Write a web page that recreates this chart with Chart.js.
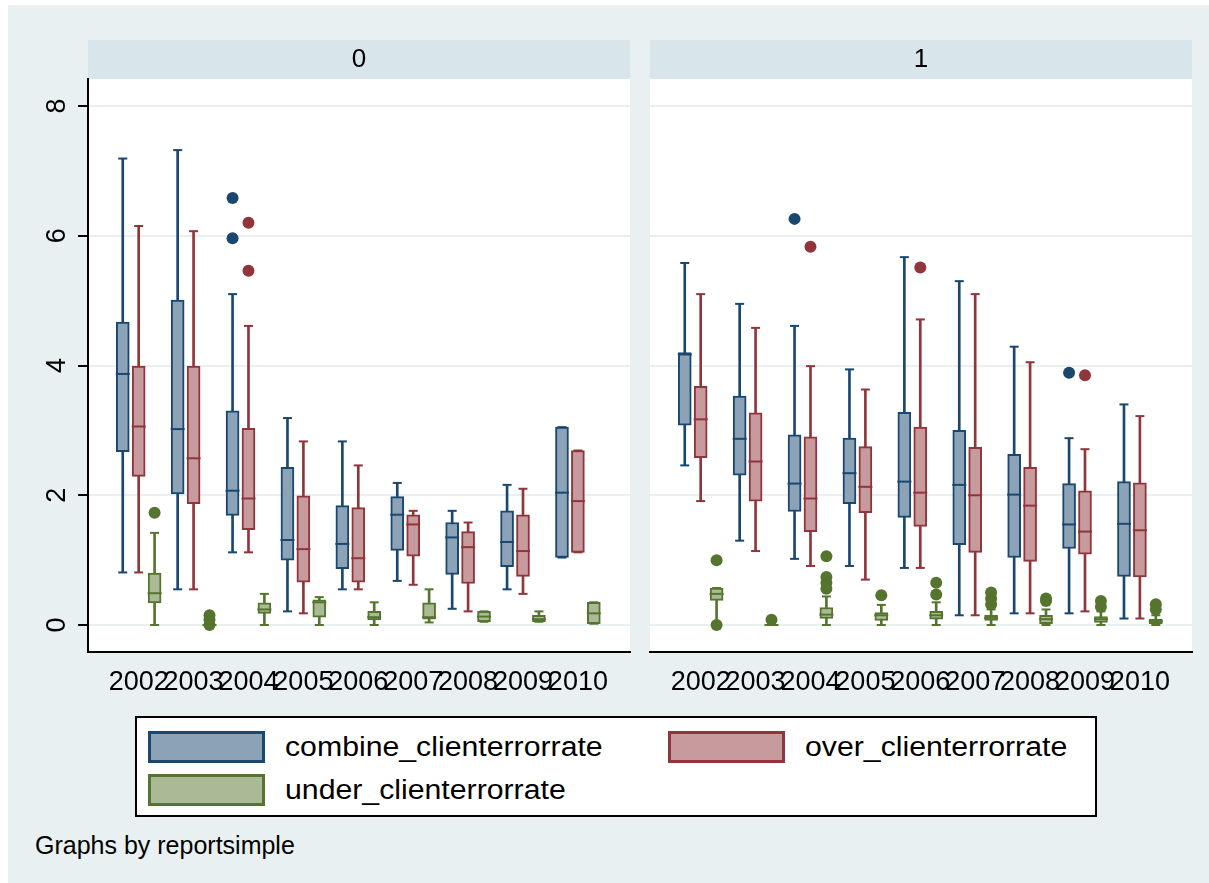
<!DOCTYPE html>
<html>
<head>
<meta charset="utf-8">
<script src="https://cdn.jsdelivr.net/npm/chart.js@4.4.1/dist/chart.umd.min.js"></script>
<style>
  body { margin: 0; background: #fff; font-family: "Liberation Sans", Arial, sans-serif; }
  #wrap { position: relative; width: 1209px; height: 883px; background: #fff; overflow: hidden; }
  #bg { position: absolute; left: 8px; top: 5px; right: 0; bottom: 0; background: #E8F0F2; }
  .panel { position: absolute; top: 0; height: 720px; }
  #legend { position: absolute; left: 135px; top: 716px; width: 962px; height: 101px;
            box-sizing: border-box; border: 2px solid #000; background: #fff; }
  .sw { position: absolute; width: 117px; height: 32px; box-sizing: border-box; border: 3px solid; }
  .lt { position: absolute; height: 32px; line-height: 32px; font-size: 27px; color: #000;
        white-space: nowrap; transform: scaleX(1.12); transform-origin: left center; }
  #note { position: absolute; left: 35px; top: 830px; line-height: 30px; font-size: 25px; color: #000; }
</style>
</head>
<body>
<div id="wrap">
  <div id="bg"></div>
  <div class="panel" style="left:0;width:640px"><canvas id="panel0"></canvas></div>
  <div class="panel" style="left:640px;width:569px"><canvas id="panel1"></canvas></div>
  <div id="legend"></div>
  <div class="sw" style="left:148px;top:731px;border-color:#1A476F;background:#8CA3B7"></div>
  <div class="lt" style="left:285px;top:731px">combine_clienterrorrate</div>
  <div class="sw" style="left:668px;top:731px;border-color:#90353B;background:#C79A9D"></div>
  <div class="lt" style="left:805px;top:731px">over_clienterrorrate</div>
  <div class="sw" style="left:148px;top:774px;border-color:#55752F;background:#AABA97"></div>
  <div class="lt" style="left:285px;top:774px">under_clienterrorrate</div>
  <div id="note">Graphs by reportsimple</div>
</div>
<script>
/* boxplots by reportsimple (0 / 1) */
const years = ['2002', '2003', '2004', '2005', '2006', '2007', '2008', '2009', '2010'];
const yTicks = [0, 2, 4, 6, 8];
const panels = ['0', '1'];

// box stats per year: [lower whisker, q1, median, q3, upper whisker]
const combine0 = [
  [0.81, 2.67, 3.87, 4.67, 7.19], [0.55, 2.02, 3.02, 5.01, 7.32], [1.12, 1.69, 2.07, 3.30, 5.10],
  [0.21, 1.00, 1.31, 2.43, 3.19], [0.55, 0.87, 1.25, 1.84, 2.83], [0.68, 1.15, 1.70, 1.98, 2.19],
  [0.25, 0.78, 1.35, 1.58, 1.76], [0.55, 0.90, 1.28, 1.76, 2.16], [1.04, 1.04, 2.04, 3.05, 3.05]
];
const over0 = [
  [0.81, 2.29, 3.06, 3.99, 6.15], [0.55, 1.87, 2.57, 3.99, 6.07], [1.12, 1.47, 1.95, 3.03, 4.61],
  [0.18, 0.66, 1.17, 1.99, 2.83], [0.55, 0.66, 1.03, 1.81, 2.46], [0.62, 1.06, 1.55, 1.70, 1.76],
  [0.21, 0.64, 1.20, 1.44, 1.58], [0.48, 0.75, 1.14, 1.70, 2.10], [1.12, 1.12, 1.91, 2.69, 2.69]
];
const under0 = [
  [0.00, 0.34, 0.49, 0.80, 1.42], [0.00, 0.00, 0.00, 0.00, 0.00], [0.00, 0.18, 0.24, 0.34, 0.48],
  [0.00, 0.12, 0.35, 0.39, 0.43], [0.00, 0.08, 0.12, 0.21, 0.35], [0.04, 0.09, 0.12, 0.34, 0.55],
  [0.05, 0.05, 0.13, 0.21, 0.21], [0.05, 0.05, 0.09, 0.15, 0.21], [0.02, 0.02, 0.18, 0.35, 0.35]
];
const combine1 = [
  [2.46, 3.08, 4.17, 4.20, 5.58], [1.30, 2.31, 2.87, 3.53, 4.95], [1.02, 1.75, 2.18, 2.93, 4.61],
  [0.91, 1.87, 2.34, 2.88, 3.94], [0.88, 1.66, 2.21, 3.28, 5.67], [0.15, 1.24, 2.16, 3.00, 5.30],
  [0.18, 1.04, 2.01, 2.63, 4.29], [0.18, 1.18, 1.55, 2.18, 2.88], [0.10, 0.75, 1.56, 2.21, 3.40]
];
const over1 = [
  [1.91, 2.58, 3.17, 3.68, 5.10], [1.14, 1.91, 2.52, 3.27, 4.58], [0.91, 1.44, 1.95, 2.90, 3.99],
  [0.70, 1.73, 2.13, 2.75, 3.63], [0.88, 1.52, 2.04, 3.05, 4.71], [0.15, 1.12, 2.00, 2.74, 5.10],
  [0.18, 0.98, 1.84, 2.43, 4.05], [0.21, 1.09, 1.44, 2.07, 2.71], [0.10, 0.74, 1.46, 2.19, 3.22]
];
const under1 = [
  [0.00, 0.38, 0.48, 0.57, 0.57], [0.00, 0.00, 0.00, 0.00, 0.00], [0.00, 0.10, 0.16, 0.27, 0.44],
  [0.00, 0.07, 0.15, 0.19, 0.31], [0.00, 0.09, 0.15, 0.21, 0.35], [0.00, 0.07, 0.11, 0.15, 0.24],
  [0.00, 0.02, 0.09, 0.15, 0.24], [0.00, 0.04, 0.09, 0.13, 0.21], [0.00, 0.02, 0.06, 0.09, 0.15]
];

// outside values per year
const combine0Out = [[], [], [6.58, 5.96], [], [], [], [], [], []];
const over0Out = [[], [], [6.20, 5.46], [], [], [], [], [], []];
const under0Out = [[1.73], [0.15, 0.08, 0.00], [], [], [], [], [], [], []];
const combine1Out = [[], [], [6.26], [], [], [], [], [3.89], []];
const over1Out = [[], [], [5.83], [], [5.51], [], [], [3.85], []];
const under1Out = [[1.00, 0.00], [0.08], [1.06, 0.74, 0.65, 0.56], [0.46], [0.65, 0.47],
  [0.50, 0.41, 0.32], [0.41, 0.37], [0.37, 0.28], [0.32, 0.24]];

const NAVY = '#1A476F', MAROON = '#90353B', GREEN = '#55752F';
const NAVY_F = '#8CA3B7', MAROON_F = '#C79A9D', GREEN_F = '#AABA97';

function boxSets(stats, outs, off, line, fill) {
  return [
    { // whisker line
      type: 'bar', grouped: false, order: 5,
      data: stats.map((s, i) => ({ x: i + off, y: [s[0], s[4]] })),
      backgroundColor: line, borderWidth: 0,
      barPercentage: 1, categoryPercentage: 1, maxBarThickness: 2
    },
    { // box q1-q3
      type: 'bar', grouped: false, order: 4,
      data: stats.map((s, i) => ({ x: i + off, y: [s[1], s[3]] })),
      backgroundColor: fill, borderColor: line, borderWidth: 2, borderSkipped: false,
      barPercentage: 1, categoryPercentage: 1, maxBarThickness: 13
    },
    { // caps
      type: 'scatter', order: 3,
      data: stats.flatMap((s, i) => [{ x: i + off, y: s[0] }, { x: i + off, y: s[4] }]),
      pointStyle: 'line', pointRadius: 4.5, pointBorderWidth: 2, pointBorderColor: line
    },
    { // median
      type: 'scatter', order: 2,
      data: stats.map((s, i) => ({ x: i + off, y: s[2] })),
      pointStyle: 'line', pointRadius: 7, pointBorderWidth: 2, pointBorderColor: line
    },
    { // outside values
      type: 'scatter', order: 1,
      data: outs.flatMap((o, i) => o.map(v => ({ x: i + off, y: v }))),
      pointStyle: 'circle', pointRadius: 6, pointBorderWidth: 0,
      pointBackgroundColor: line, pointBorderColor: line
    }
  ];
}

const stripBg = {
  id: 'stripBg',
  beforeDraw(chart) {
    const { ctx, chartArea: a } = chart;
    ctx.save();
    ctx.fillStyle = '#fff';
    ctx.fillRect(a.left, a.top, a.right - a.left, a.bottom - a.top);
    const t = chart.titleBlock;
    ctx.fillStyle = '#D8E5EB';
    ctx.fillRect(a.left, t.top, a.right - a.left, t.bottom - t.top);
    ctx.restore();
  }
};

function makePanel(id, label, sets, first) {
  const font = { family: '"Liberation Sans", Arial, sans-serif', size: 26 };
  new Chart(document.getElementById(id), {
    type: 'bar',
    plugins: [stripBg],
    data: { datasets: sets },
    options: {
      responsive: true,
      maintainAspectRatio: false,
      animation: false,
      events: [],
      layout: { padding: first ? { left: 38, top: 40, right: 10, bottom: 18 }
                               : { left: 10, top: 40, right: 17, bottom: 18 } },
      plugins: {
        legend: { display: false },
        tooltip: { enabled: false },
        title: { display: true, text: label, fullSize: false, color: '#000',
                 padding: 0, font: { ...font, lineHeight: 1.5, weight: 'normal' } }
      },
      scales: {
        x: {
          type: 'linear', offset: false, min: -0.923, max: 8.949,
          afterBuildTicks: s => { s.ticks = years.map((_, i) => ({ value: i })); },
          afterFit: s => { s.height = 50; },
          grid: { display: false },
          border: { display: true, color: '#000', width: 2 },
          ticks: { autoSkip: false, maxRotation: 0, minRotation: 0, padding: 6,
                   color: '#000', font: { ...font, size: 27 }, callback: v => years[v] }
        },
        y: {
          type: 'linear', min: -0.416, max: 8.416,
          afterBuildTicks: s => { s.ticks = yTicks.map(v => ({ value: v })); },
          afterFit: s => { s.width = first ? 50 : 0; },
          grid: { color: '#E8F0F2', lineWidth: 2, drawTicks: first, tickLength: 10,
                  tickColor: '#000', tickWidth: 2 },
          border: { display: first, color: '#000', width: 2 },
          ticks: { display: first, minRotation: 90, maxRotation: 90, crossAlign: 'center',
                   padding: 13, color: '#000', font: { ...font, size: 27 } }
        }
      }
    }
  });
}

makePanel('panel0', panels[0], [
  ...boxSets(combine0, combine0Out, -0.29, NAVY, NAVY_F),
  ...boxSets(over0, over0Out, 0, MAROON, MAROON_F),
  ...boxSets(under0, under0Out, 0.29, GREEN, GREEN_F)
], true);

makePanel('panel1', panels[1], [
  ...boxSets(combine1, combine1Out, -0.29, NAVY, NAVY_F),
  ...boxSets(over1, over1Out, 0, MAROON, MAROON_F),
  ...boxSets(under1, under1Out, 0.29, GREEN, GREEN_F)
], false);
</script>
</body>
</html>
